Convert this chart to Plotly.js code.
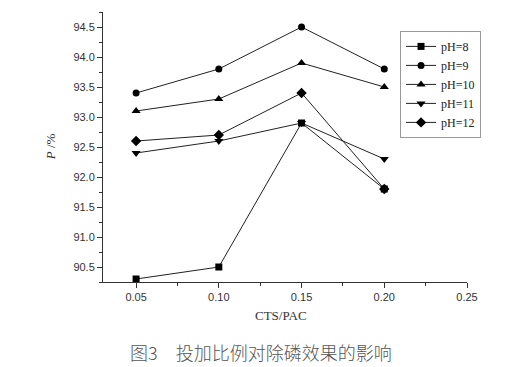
<!DOCTYPE html>
<html><head><meta charset="utf-8">
<script src="https://cdn.plot.ly/plotly-3.0.1.min.js"></script>
<style>body{margin:0;background:#fff}#chart{width:507px;height:367px}</style>
</head><body><div id="chart"></div>
<script>
const ratios = [0.05, 0.10, 0.15, 0.20];
const seriesNames = ["pH=8", "pH=9", "pH=10", "pH=11", "pH=12"];
const pH8 = [90.3, 90.5, 92.9, 91.8];
const pH9 = [93.4, 93.8, 94.5, 93.8];
const pH10 = [93.1, 93.3, 93.9, 93.5];
const pH11 = [92.4, 92.6, 92.9, 92.3];
const pH12 = [92.6, 92.7, 93.4, 91.8];
const xTicks = [0.05, 0.10, 0.15, 0.20, 0.25];
const yTicks = [90.5, 91.0, 91.5, 92.0, 92.5, 93.0, 93.5, 94.0, 94.5];

const allY = [pH8, pH9, pH10, pH11, pH12];
const symbols = ["square", "circle", "triangle-up", "triangle-down", "diamond"];
const sizes = [7, 7, 8, 8, 8];
const traces = allY.map((y, i) => ({
  x: ratios, y: y, name: seriesNames[i], type: "scatter", mode: "lines+markers",
  line: {color: "#222", width: 1},
  marker: {symbol: symbols[i], size: sizes[i], color: "#000"}
}));

const layout = {
  width: 507, height: 367,
  margin: {l: 103, r: 40, t: 12, b: 85},
  paper_bgcolor: "#fff", plot_bgcolor: "#fff",
  showlegend: true,
  legend: {x: 0.816, y: 0.93, xanchor: "left", yanchor: "top",
    bordercolor: "#999", borderwidth: 1, bgcolor: "#fff",
    font: {family: "Liberation Serif", size: 12, color: "#222"},
    tracegroupgap: 0, itemwidth: 30},
  xaxis: {range: [0.03, 0.25], tickvals: xTicks, ticktext: xTicks.map(v => v.toFixed(2)),
    showgrid: false, zeroline: false, showline: true, linecolor: "#333", linewidth: 1,
    ticks: "outside", ticklen: 5, tickcolor: "#333",
    minor: {dtick: 0.025, tick0: 0, ticks: "outside", ticklen: 3, tickcolor: "#333", showgrid: false},
    tickfont: {family: "Liberation Sans, Arial", size: 11, color: "#333"}},
  yaxis: {range: [90.25, 94.75], tickvals: yTicks, ticktext: yTicks.map(v => v.toFixed(1)),
    showgrid: false, zeroline: false, showline: true, linecolor: "#333", linewidth: 1,
    ticks: "outside", ticklen: 5, tickcolor: "#333",
    minor: {dtick: 0.25, tick0: 90, ticks: "outside", ticklen: 3, tickcolor: "#333", showgrid: false},
    tickfont: {family: "Liberation Sans, Arial", size: 11, color: "#333"}},
  annotations: [
    {text: "CTS/PAC", xref: "paper", yref: "paper", x: 0.49, y: -0.125, xanchor: "center", yanchor: "middle",
     showarrow: false, font: {family: "Liberation Serif", size: 13, color: "#333"}},
    {text: "<i>P</i> /%", xref: "paper", yref: "paper", x: -0.145, y: 0.5, textangle: -90,
     xanchor: "center", yanchor: "middle", showarrow: false,
     font: {family: "Liberation Serif", size: 13, color: "#333"}},
    {text: "图3　投加比例对除磷效果的影响", xref: "paper", yref: "paper", x: 0.434, y: -0.26,
     xanchor: "center", yanchor: "middle", showarrow: false,
     font: {family: "Noto Sans CJK SC", size: 18, color: "#555", weight: 300}}
  ]
};
Plotly.newPlot("chart", traces, layout, {displayModeBar: false, staticPlot: true});
</script></body></html>
